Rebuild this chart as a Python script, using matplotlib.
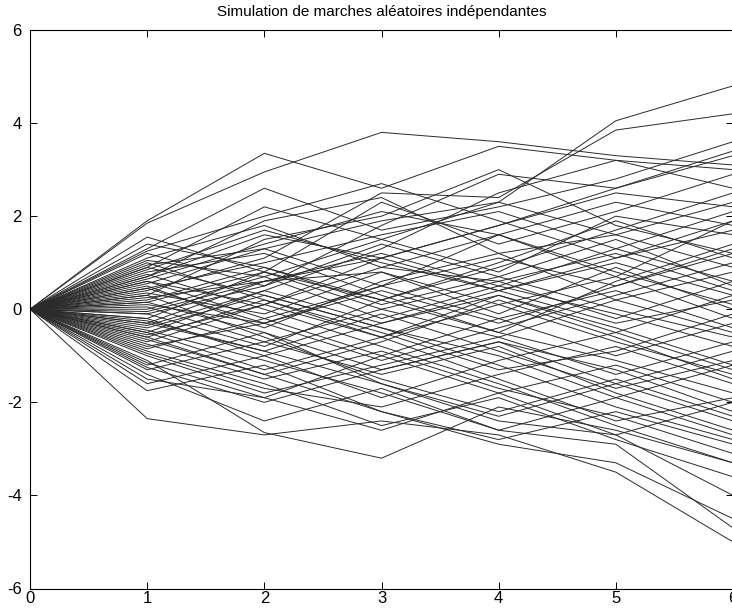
import matplotlib
matplotlib.use("Agg")
import matplotlib.pyplot as plt
import numpy as np

plt.rcParams['font.family'] = ['Liberation Sans', 'DejaVu Sans']
plt.rcParams['axes.unicode_minus'] = False

steps = [0, 1, 2, 3, 4, 5, 6]

pos_t1 = [0.95, 0.40, 1.90, 1.85, 1.30, 0.70, 1.20, 0.60, 0.90, 0.30,
          1.10, -0.20, 0.50, 0.80, -0.50, 0.20, 1.00, -0.10, 0.70, -0.30,
          0.10, 0.45, -0.60, 0.60, -0.40, 0.00, -0.80, 0.30, -1.00, -0.70,
          -1.20, -0.90, -1.40, -2.35, -1.75, -1.10, -0.50, -1.30, -0.20, -0.60,
          -1.50, 0.15, -0.95, -0.30, 0.90, -0.10, 0.35, -0.45, 1.40, 0.55,
          -0.85, 1.25, -1.60, 0.75, -0.35, 0.25, -1.15, 0.05, -0.75, 1.05,
          0.65, -0.25, 0.85, -0.55, 0.15, -1.25, 0.45, -0.65, 1.55, -0.05]

pos_t2 = [1.30, 1.10, 3.35, 2.95, 2.60, 1.90, 0.50, 0.10, 2.20, 1.50,
          1.80, 0.80, -0.40, 1.20, 0.40, 0.90, 0.20, -0.80, 1.60, 0.60,
          -0.30, 1.00, -1.40, -0.20, 0.30, 0.70, -0.30, -0.60, -1.80, 0.10,
          -0.50, -1.60, -2.40, -2.70, -1.20, -2.65, -1.30, -0.70, -1.00, 0.20,
          -1.90, -0.50, -1.70, -0.90, 0.30, 0.50, -0.10, -1.10, 0.90, 1.30,
          -0.20, 2.00, -1.00, 0.00, 0.40, 0.60, -1.90, -0.70, -1.50, 0.70,
          1.40, -0.90, 1.70, 0.10, 0.80, -2.00, -0.30, -1.40, 0.80, 0.60]

pos_t3 = [1.90, 2.50, 2.60, 3.80, 1.70, 2.40, 1.80, 1.10, 1.50, 2.00,
          0.90, 2.30, 0.60, 0.30, 1.30, 0.10, -0.60, 0.20, 1.10, 0.80,
          -1.10, 1.60, -0.70, 0.50, -0.40, -0.20, 0.40, -1.50, -1.20, 0.90,
          -1.60, -2.50, -1.70, -2.40, -2.20, -3.20, -0.60, -1.40, -1.90, -0.50,
          -1.00, -1.30, -2.10, -0.10, -0.40, 1.40, 0.80, -1.80, 0.20, 0.50,
          -1.00, 2.70, -0.30, -0.80, -0.30, 1.20, -2.60, 0.00, -0.90, 1.50,
          2.10, -1.60, 1.00, -0.60, 0.20, -1.30, 0.50, -2.20, 0.00, 1.10]

pos_t4 = [2.30, 2.40, 3.50, 3.60, 2.20, 1.20, 2.90, 1.80, 0.80, 3.00,
          1.60, 1.40, 1.20, -0.50, 2.50, 0.70, 0.30, 0.90, 0.40, -0.10,
          -0.40, 2.10, 0.20, 1.60, -1.20, 0.50, -0.30, -2.20, -0.60, 0.60,
          -2.40, -1.90, -2.60, -2.70, -2.90, -2.10, -1.50, -0.80, -1.10, -1.30,
          -1.80, -0.70, -1.40, -0.90, -1.00, 0.70, 0.10, -2.60, 1.00, -0.20,
          -0.20, 1.90, 0.40, -1.60, 0.30, 0.50, -1.80, -0.60, -1.70, 2.30,
          1.60, -2.30, 0.40, 0.10, -0.50, -0.70, 1.10, -2.80, 0.60, 1.80]

pos_t5 = [4.05, 3.85, 3.20, 3.30, 2.80, 1.60, 2.60, 2.50, 2.00, 1.80,
          0.70, 2.10, 0.20, 0.60, 3.20, 1.50, -0.40, 1.70, -0.30, 0.90,
          0.30, 1.30, -0.60, 2.30, -2.10, -0.10, 0.50, -1.50, -1.40, 1.20,
          -2.70, -2.80, -2.90, -3.50, -3.30, -2.60, -2.40, -1.80, -0.50, -0.90,
          -1.20, -1.60, -0.80, -1.70, -1.90, 0.00, -0.70, -1.90, 1.90, 0.40,
          -1.00, 1.10, 1.10, -2.50, -0.50, 1.30, -2.70, 0.20, -2.30, 1.60,
          0.80, -1.60, 1.00, 0.70, -1.10, -1.30, 0.50, -2.20, -0.20, 2.60]

pos_t6 = [4.80, 4.20, 3.00, 3.10, 3.60, 2.30, 3.30, 2.20, 1.60, 1.20,
          1.90, 2.90, 0.80, 1.40, 2.60, 0.50, -1.20, 2.50, 0.20, 0.00,
          1.00, 0.60, -1.50, 1.80, -2.80, -0.80, 1.30, -2.30, -0.70, 0.40,
          -4.00, -3.60, -4.70, -5.00, -4.50, -3.30, -1.90, -2.60, -1.30, -0.10,
          -2.00, -2.40, -1.60, -1.10, -2.70, -0.60, -1.40, -1.20, 1.10, -0.40,
          -0.30, 1.70, 1.90, -3.30, 0.30, 2.10, -2.00, -0.50, -3.10, 0.90,
          0.10, -0.90, 0.30, -0.20, -1.80, -2.20, 1.20, -2.90, 0.60, 3.40]

x_ticks = [0, 1, 2, 3, 4, 5, 6]
y_ticks = [-6, -4, -2, 0, 2, 4, 6]
title_text = "Simulation de marches aléatoires indépendantes"

n_walks = len(pos_t1)
walks = np.column_stack([np.zeros(n_walks), pos_t1, pos_t2, pos_t3,
                         pos_t4, pos_t5, pos_t6])

W, H = 732, 609
fig = plt.figure(figsize=(W / 100, H / 100), dpi=100)
ax = fig.add_axes([30 / W, (H - 588.5) / H, 703 / W, (588.5 - 30) / H])

for w in walks:
    ax.plot(steps, w, color='#2a2a2a', linewidth=0.7, antialiased=True)

ax.set_xlim(0, 6)
ax.set_ylim(-6, 6)
ax.set_xticks(x_ticks)
ax.set_yticks(y_ticks)
ax.tick_params(direction='in', length=5, width=0.7, top=True, right=True,
               labelsize=12, colors='black')
ax.tick_params(axis='x', pad=2)
ax.tick_params(axis='y', pad=6)
for s in ax.spines.values():
    s.set_linewidth(0.8)
    s.set_color('black')
ax.set_title(title_text, fontsize=11, pad=10)

fig.savefig("out.png", dpi=100)
